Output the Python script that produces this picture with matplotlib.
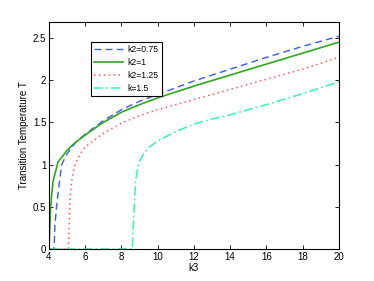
import matplotlib
matplotlib.use('Agg')
import matplotlib.pyplot as plt

# ── data ──
k3_075 = [4.0, 4.28, 4.33, 4.42, 4.55, 4.7, 5.0, 5.5, 6.0, 7.0, 8.0, 9.0, 10.0, 12.0, 14.0, 16.0, 18.0, 20.0]
T_075 = [0.0, 0.0, 0.3, 0.5, 0.75, 1.0, 1.13, 1.27, 1.36, 1.52, 1.65, 1.75, 1.83, 1.99, 2.13, 2.27, 2.40, 2.52]

k3_1 = [4.0, 4.09, 4.22, 4.5, 5.0, 5.5, 6.0, 7.0, 8.0, 9.0, 10.0, 12.0, 14.0, 16.0, 18.0, 20.0]
T_1 = [0.0, 0.5, 0.8, 1.03, 1.17, 1.27, 1.35, 1.50, 1.62, 1.71, 1.79, 1.93, 2.06, 2.19, 2.32, 2.45]

k3_125 = [4.0, 5.07, 5.12, 5.17, 5.25, 5.4, 5.7, 6.0, 7.0, 8.0, 9.0, 10.0, 12.0, 14.0, 16.0, 18.0, 20.0]
T_125 = [0.0, 0.0, 0.3, 0.6, 0.8, 0.98, 1.12, 1.21, 1.37, 1.49, 1.58, 1.65, 1.77, 1.89, 2.01, 2.13, 2.27]

k3_15 = [4.0, 8.6, 8.68, 8.78, 8.95, 9.2, 9.5, 10.0, 11.0, 12.0, 13.0, 14.0, 16.0, 18.0, 20.0]
T_15 = [0.0, 0.0, 0.4, 0.8, 1.02, 1.12, 1.2, 1.28, 1.39, 1.48, 1.54, 1.59, 1.71, 1.84, 1.98]

x_ticks = [4, 6, 8, 10, 12, 14, 16, 18, 20]
y_ticks = [0, 0.5, 1, 1.5, 2, 2.5]
y_ticklabels = ['0', '0.5', '1', '1.5', '2', '2.5']

plt.rcParams.update({
    'font.family': ['Liberation Sans', 'DejaVu Sans'],
    'font.size': 7,
    'axes.linewidth': 0.8,
})

fig = plt.figure(figsize=(3.74, 2.81), dpi=100)
ax = fig.add_axes([0.131, 0.114, 0.775, 0.808])

ax.plot(k3_075, T_075, color='#3a5cff', linestyle=(0, (5, 3)), linewidth=1.0, label='k2=0.75')
ax.plot(k3_1, T_1, color='#2ea81e', linestyle='-', linewidth=1.2, label='k2=1')
ax.plot(k3_125, T_125, color='#ff5a5a', linestyle=(0, (1, 2.2)), linewidth=1.1, label='k2=1.25')
ax.plot(k3_15, T_15, color='#33f5b5', linestyle=(0, (6, 2, 1.2, 2)), linewidth=1.1, label='k=1.5')

ax.set_xlim(4, 20)
ax.set_ylim(0, 2.69)
ax.set_xticks(x_ticks)
ax.set_yticks(y_ticks)
ax.set_yticklabels(y_ticklabels)
ax.tick_params(direction='in', length=3, width=0.6, top=True, right=True, pad=2)

ax.set_xlabel('k3', labelpad=1)
ax.set_ylabel('Transition Temperature T', labelpad=3)

leg = ax.legend(loc='upper left', bbox_to_anchor=(0.145, 0.913), borderaxespad=0,
                fancybox=False, edgecolor='black', framealpha=1,
                handlelength=3.3, fontsize=6.2, labelspacing=0.45,
                handletextpad=0.5, borderpad=0.4)
leg.get_frame().set_linewidth(0.8)

fig.savefig('out.png', dpi=100)
